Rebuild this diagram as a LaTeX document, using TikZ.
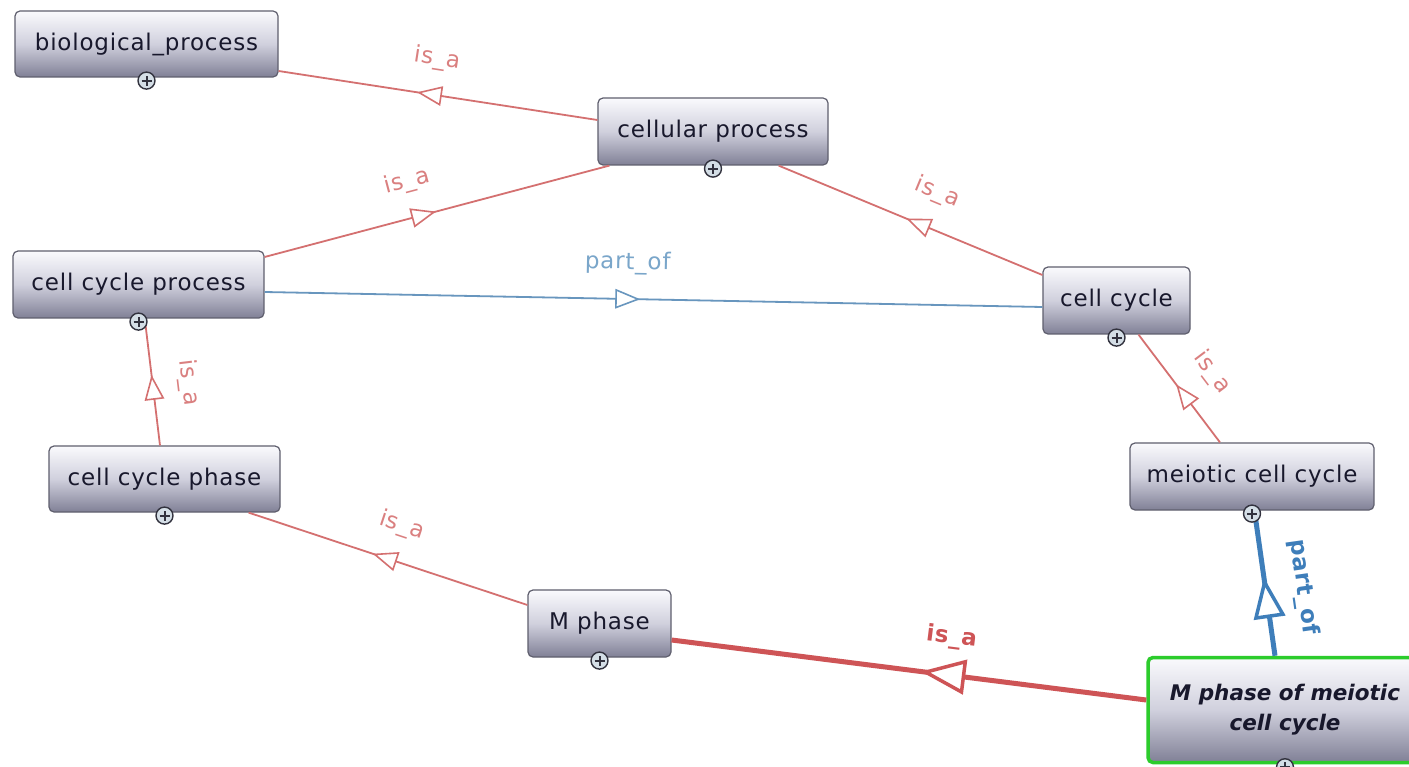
\documentclass[tikz,border=0pt]{standalone}
\usepackage{fontspec}
\setmainfont{DejaVu Sans}
\newfontfamily\termfont[LetterSpace=3.5]{DejaVu Sans}
\usetikzlibrary{decorations.markings}

\definecolor{boxtop}{RGB}{250,250,253}
\definecolor{boxmid}{RGB}{208,208,221}
\definecolor{boxbot}{RGB}{128,128,150}
\definecolor{boxedge}{RGB}{95,95,110}
\definecolor{termtext}{RGB}{24,24,44}
\definecolor{isared}{RGB}{212,112,112}
\definecolor{isalbl}{RGB}{218,128,128}
\definecolor{isathick}{RGB}{206,84,86}
\definecolor{partblue}{RGB}{104,150,190}
\definecolor{partlbl}{RGB}{122,166,202}
\definecolor{partthick}{RGB}{62,126,186}
\definecolor{focusgreen}{RGB}{44,204,44}
\definecolor{plusfill}{RGB}{212,222,230}
\definecolor{plusedge}{RGB}{50,50,62}

\tikzset{
  term/.style={draw=boxedge, line width=1.2pt, rounded corners=5pt,
    top color=boxtop, bottom color=boxbot, middle color=boxmid,
    text=termtext, font=\termfont\fontsize{23}{26}\selectfont, inner sep=0pt},
  focus/.style={term, draw=focusgreen, line width=3.5pt,
    font=\fontsize{21.5}{30}\selectfont\bfseries\itshape, align=center},
  plusbtn/.style={circle, draw=plusedge, fill=plusfill, line width=1.4pt,
    minimum size=17pt, inner sep=0pt,
    path picture={\draw[line width=2pt, plusedge]
      ([xshift=-5pt]path picture bounding box.center) --
      ([xshift=5pt]path picture bounding box.center)
      ([yshift=-5pt]path picture bounding box.center) --
      ([yshift=5pt]path picture bounding box.center);}},
  % open triangle in the middle of a connector: position, colour, length, width
  tri/.style n args={4}{postaction={decorate}, decoration={markings,
    mark=at position #1 with {\draw[draw=#2, fill=white, line width=#4, line join=miter]
      (-#3/2,-#3*0.4) -- (#3/2,0pt) -- (-#3/2,#3*0.4) -- cycle;}}},
  isa/.style={draw=isared, line width=1.8pt},
  partof/.style={draw=partblue, line width=1.8pt},
  isabold/.style={draw=isathick, line width=5pt},
  partbold/.style={draw=partthick, line width=5pt},
  lbl/.style={sloped, above=23pt, inner sep=0pt, text height=18pt, text depth=6pt,
    font=\termfont\fontsize{23}{26}\selectfont},
  lblbold/.style={lbl, font=\termfont\fontsize{23}{26}\selectfont\bfseries},
}

\newcommand{\plusbelow}[1]{\node[plusbtn] (#1-plus) at ([yshift=-3pt]#1.south) {};}

\begin{document}
\begin{tikzpicture}[x=1pt, y=-1pt]
  \fill[white] (0,0) rectangle (1409,767);
  \useasboundingbox (0,0) rectangle (1409,767);
  \clip (0,0) rectangle (1409,767);

  % terms
  \node[term, minimum width=263pt, minimum height=66pt] (bp)   at (146.5,44)   {biological\_process};
  \node[term, minimum width=230pt, minimum height=67pt] (cp)   at (713,131.5)  {cellular process};
  \node[term, minimum width=251pt, minimum height=67pt] (ccp)  at (138.5,284.5){cell cycle process};
  \node[term, minimum width=147pt, minimum height=67pt] (cc)   at (1116.5,300.5){cell cycle};
  \node[term, minimum width=231pt, minimum height=66pt] (ccph) at (164.5,479)  {cell cycle phase};
  \node[term, minimum width=244pt, minimum height=67pt] (mcc)  at (1252,476.5) {meiotic cell cycle};
  \node[term, minimum width=143pt, minimum height=67pt] (mp)   at (599.5,623.5){M phase};
  \node[focus, minimum width=274pt, minimum height=105pt] (mpm) at (1285,710)
    {M phase of meiotic\\cell cycle};

  % is_a / part_of relations, child to parent
  \draw[isa, tri={0.525}{isared}{22pt}{1.6pt}]
    ([yshift=11.5pt]cp.west) -- node[lbl, pos=0.52, text=isalbl] (l1) {is\_a} ([yshift=-27pt]bp.east);
  \draw[isa, tri={0.46}{isared}{22pt}{1.6pt}]
    ([yshift=27.5pt]ccp.east) -- node[lbl, pos=0.44, text=isalbl] (l2) {is\_a} ([xshift=12pt]cp.south west);
  \draw[isa, tri={0.47}{isared}{22pt}{1.6pt}]
    ([yshift=25.5pt]cc.west) -- node[lbl, pos=0.45, text=isalbl] (l3) {is\_a} ([xshift=-50pt]cp.south east);
  \draw[partof, tri={0.466}{partblue}{22pt}{1.6pt}]
    ([yshift=-7.5pt]ccp.east) -- node[lbl, pos=0.466, text=partlbl] (l4) {part\_of} ([yshift=-6.5pt]cc.west);
  \draw[isa, tri={0.46}{isared}{22pt}{1.6pt}]
    ([xshift=-4.5pt]ccph.north) -- node[lbl, pos=0.47, text=isalbl] (l5) {is\_a} ([xshift=6.5pt,yshift=-2pt]ccp.south);
  \draw[isa, tri={0.44}{isared}{22pt}{1.6pt}]
    ([xshift=-32pt]mcc.north) -- node[lbl, pos=0.45, text=isalbl] (l6) {is\_a} ([xshift=22pt]cc.south);
  \draw[isa, tri={0.51}{isared}{22pt}{1.6pt}]
    ([yshift=18.5pt]mp.west) -- node[lbl, pos=0.49, text=isalbl] (l7) {is\_a} ([xshift=-32pt]ccph.south east);
  \draw[isabold, tri={0.425}{isathick}{38pt}{3.5pt}]
    ([yshift=10pt]mpm.west) -- node[lblbold, pos=0.42, text=isathick] (l8) {is\_a} ([yshift=-16.5pt]mp.east);
  \draw[partbold, tri={0.4}{partthick}{34pt}{3.5pt}]
    ([xshift=-10pt]mpm.north) -- node[lblbold, pos=0.45, text=partthick] (l9) {part\_of} ([xshift=3pt,yshift=-4pt]mcc.south);

  % expand buttons
  \plusbelow{bp}
  \plusbelow{cp}
  \plusbelow{ccp}
  \plusbelow{cc}
  \plusbelow{ccph}
  \plusbelow{mcc}
  \plusbelow{mp}
  \plusbelow{mpm}
\end{tikzpicture}
\end{document}
